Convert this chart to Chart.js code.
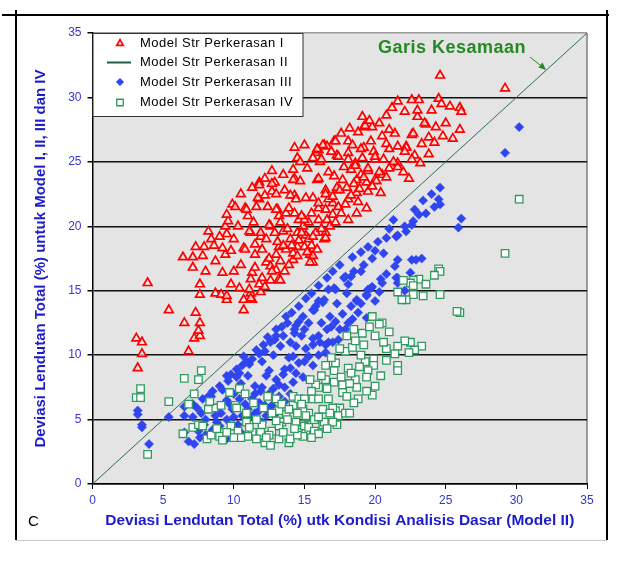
<!DOCTYPE html>
<html>
<head>
<meta charset="utf-8">
<script src="https://cdn.jsdelivr.net/npm/chart.js@4"></script>
<style>
 html,body{margin:0;padding:0;background:#fff;}
 canvas{display:block;}
</style>
</head>
<body>
<canvas id="chart" width="625" height="563"></canvas>
<script>
/* data: [x, y] pairs, deviasi lendutan (%) */
var model1=[
 [3.2,9.0],[3.1,11.3],[3.5,11.0],[3.5,10.1],[3.9,15.6],[5.4,13.5],[6.5,12.5],[6.8,10.3],[7.2,11.3],[7.6,11.5],[7.5,11.9],[7.3,13.3],[7.6,12.5],[7.6,14.7],[7.6,15.5],
 [9.5,14.3],[10.7,14.3],[11.3,14.3],[10.7,13.5],
 [6.4,17.6],[7.1,17.6],[7.1,16.8],[7.3,18.4],[7.8,17.7],[7.9,18.4],[8.2,19.6],[8.4,19.0],[8.7,17.3],[8.7,14.8],[9.1,14.7],[9.5,14.6],[9.2,16.4],[10.0,16.5],
 [9.4,17.8],[9.8,18.1],[10.7,18.3],[11.5,17.8],[11.2,19.5],[9.5,19.4],[9.0,19.2],[9.4,20.0],[9.6,20.4],[9.5,20.9],[9.9,21.7],[10.1,21.5],[10.8,21.4],[11.0,20.8],
 [10.5,22.5],[11.3,23.0],[11.8,23.4],[12.2,23.7],[12.7,24.3],[12.9,23.4],[12.7,22.7],[11.8,22.1],[11.6,21.5],[11.9,19.2],[12.3,19.0],[12.6,20.0],[13.1,21.3],
 [13.2,20.8],[13.3,20.3],[13.5,19.6],[13.2,18.4],[11.5,18.6],[11.3,16.4],[11.5,16.8],[12.3,17.2],[12.6,16.9],[13.0,16.6],[13.2,15.9],[11.9,14.9],[11.2,14.8],
 [10.4,15.2],[11.2,14.4],[11.1,15.1],[11.2,15.9],[12.7,16.5],[13.3,15.8],[13.3,17.3],[11.1,19.6],[11.9,19.5],[12.5,20.1],[13.1,18.8],[13.7,18.2],[14.2,17.4],
 [10.9,21.3],[13.0,21.3],[13.7,21.0],[10.8,18.2],[12.7,23.3],[11.8,23.2],[12.2,22.4],[11.7,22.2],[14.3,22.4],[14.3,23.7],
 [14.3,26.1],[15.0,26.3],[14.5,25.3],[14.2,24.4],[14.2,23.6],[14.7,23.5],[14.0,22.4],[14.4,22.1],[15.6,22.2],[13.9,21.4],[14.3,21.0],[14.6,20.5],[14.9,20.0],
 [15.1,19.3],[15.3,19.0],[14.5,18.4],[14.2,17.9],[14.5,17.7],[15.4,17.8],[15.6,17.2],[15.8,19.5],[16.5,19.5],[16.4,19.0],[15.8,25.7],[16.0,25.9],[16.4,26.3],
 [16.6,26.2],[17.1,26.6],[16.1,25.0],[15.9,23.6],[16.5,22.8],[17.1,23.9],[17.0,21.8],[16.5,21.3],[16.6,20.5],[16.0,20.5],
 [19.2,27.7],[19.8,27.7],[18.8,27.3],[21.4,27.2],[23.6,27.9],[24.3,27.7],[22.6,27.1],[20.8,26.4],[21.6,26.2],[22.2,26.2],[23.3,26.4],[22.8,25.5],[20.6,25.2],
 [21.6,24.9],[22.6,25.2],[16.3,26.3],[17.2,26.6],[18.1,26.6],[18.4,26.3],[19.2,26.1],[19.9,25.8],[20.0,25.2],[19.1,25.3],[17.3,25.5],[18.1,25.7],[15.6,25.3],
 [14.7,25.0],[18.6,24.9],[18.3,24.4],[19.5,24.3],[17.7,23.6],[18.7,23.6],[20.0,23.6],[19.4,23.4],[17.3,22.8],[19.5,22.7],[20.4,22.6],[15.1,22.2],[16.7,22.1],
 [18.1,22.1],[18.8,21.9],[16.0,21.4],[17.4,21.5],[18.7,21.0],[19.4,21.4],[17.0,20.9],[18.1,20.5],[15.3,20.3],[15.6,19.2],[15.0,18.4],[15.6,17.7],[15.4,17.2],[16.5,19.1],
 [24.6,31.7],[29.2,30.7],[21.6,29.7],[22.6,29.8],[23.1,29.8],[24.5,29.9],[24.7,29.5],[26.0,29.2],[26.1,28.9],[22.1,28.9],[20.8,28.6],[19.1,28.5],[19.3,27.8],
 [22.7,27.2],[22.2,26.1],[21.6,24.6],[22.1,25.8],[19.0,26.0],[20.0,25.4],[18.6,24.7],[16.0,23.7],[20.1,23.5],[17.3,23.0],[18.7,22.6],[15.9,26.0],[16.2,25.2],
 [17.4,25.4],[18.1,25.2],
 [12.0,16.0],[12.5,17.5],[13.0,17.8],[13.5,18.5],[14.0,19.0],[14.5,19.5],[15.0,20.5],[15.5,21.0],[16.0,21.8],[16.5,22.5],[17.0,22.3],[17.5,22.8],[18.0,23.0],
 [18.5,23.3],[19.0,24.0],[19.5,24.5],[20.5,24.0],[21.0,24.5],[13.8,19.8],[14.8,20.8],[23.0,28.5],[23.5,28.0],[24.0,29.0],[25.0,28.0],[21.0,27.5],[20.5,27.0],
 [11.8,15.5],[12.2,15.3],[12.6,15.8],[13.6,16.5],[13.9,17.0],[14.1,18.5],[14.6,18.9],[14.8,19.5],[15.2,18.0],[15.5,18.5],[15.9,18.2],[16.2,19.8],[16.8,20.0],
 [17.2,20.3],[17.6,21.0],[17.9,21.7],[18.3,22.4],[18.9,22.9],[19.2,23.8],[19.8,23.1],[20.3,24.2],[20.8,23.8],[21.3,25.0],[22.0,24.2],[22.4,23.7],[23.2,24.9],
 [23.8,25.6],[24.2,26.5],[24.8,27.0],[25.5,26.8],[26.0,27.5],[25.3,29.3],[23.0,29.0],[21.2,29.2],[20.3,28.0],[19.6,28.2],[18.2,27.6],[17.6,27.2],[16.9,25.8],
 [13.5,24.0],[13.0,22.5],[12.4,21.5],[11.4,20.3],[10.3,20.0],[10.0,19.0],[9.2,18.3],[8.6,18.5],[8.0,16.5],[9.8,15.5],[10.5,17.0],[12.0,18.2],[12.9,19.5],
 [13.6,22.8],[15.2,24.5],[16.7,24.2],[17.8,24.6],[19.7,26.6],[21.0,26.0],[23.8,26.9]
];
var model2X=[0,35];
var model2Y=[0,35];
var model3=[
 [3.2,5.7],[3.2,5.4],[3.5,4.6],[3.5,4.4],[4.0,3.1],[5.4,5.2],[6.5,5.3],[7.1,5.2],[6.5,4.0],[6.8,3.3],[7.2,3.1],[7.5,4.1],[7.6,3.6],[7.7,5.5],[7.1,6.2],[7.4,5.9],
 [7.8,6.6],[8.2,6.8],[8.4,6.8],[8.8,4.8],[9.1,5.5],[9.5,3.5],[9.5,5.0],[10.0,5.2],[10.5,4.0],[10.4,6.6],[9.0,7.6],[9.6,8.0],[9.5,8.4],[9.8,8.5],[10.2,8.9],
 [10.6,9.2],[10.9,9.5],[11.3,9.7],[11.8,10.1],[12.2,10.3],[12.6,11.0],[12.9,11.2],[13.3,10.7],[10.2,8.3],[11.0,8.4],[11.5,7.6],[12.3,8.4],[12.5,8.8],[13.0,8.1],
 [13.2,7.7],[13.6,7.5],[11.3,6.6],[11.8,6.3],[12.2,6.1],[12.7,6.1],[13.2,6.8],[10.6,5.3],[11.2,5.2],[11.5,5.5],[12.3,5.3],[13.9,9.8],[14.2,9.9],[14.4,10.7],
 [14.3,11.7],[14.6,12.6],[14.9,13.0],[14.4,12.3],[15.6,11.3],[16.0,11.5],[15.3,9.9],[15.6,9.2],[16.5,10.2],[17.0,11.0],[14.4,8.6],[14.9,8.3],[14.2,7.9],
 [15.3,8.1],[15.8,13.8],[16.3,14.1],
 [24.2,21.5],[23.6,21.0],[23.1,20.9],[22.7,20.4],[22.6,20.1],[22.1,20.0],[22.2,19.6],[21.5,19.2],[20.8,19.1],[20.6,17.9],[19.8,17.5],[19.2,17.0],[19.0,16.5],
 [18.3,16.1],[17.8,16.0],[18.1,15.5],[17.1,15.2],[16.7,15.1],[16.4,14.3],[15.6,13.5],[14.3,12.0],
 [21.6,17.4],[22.6,17.4],[22.9,17.4],[23.3,17.5],[21.4,16.9],[22.5,16.4],[20.8,16.3],[20.4,15.9],[21.6,16.0],[22.1,15.0],[19.8,15.3],[19.5,15.1],[19.4,14.6],
 [20.0,14.2],[18.7,14.3],[18.3,13.8],[18.8,13.3],[19.4,12.9],[17.7,13.2],[17.2,12.6],[18.1,12.5],[17.9,12.0],[16.6,12.0],[17.4,11.2],[15.6,10.8],[16.7,11.0],
 [30.2,27.7],[29.2,25.7],[24.6,23.0],[24.5,22.1],[24.6,21.7],[26.1,20.6],[25.9,19.9],[21.6,19.3],[18.5,16.5],[17.9,16.1],[17.2,15.1],[16.0,14.2],[15.7,13.5],
 [21.5,16.0],[21.6,15.6],[20.5,15.6],[19.7,15.2],[19.4,14.7],[18.7,14.2],
 [12.0,9.5],[12.8,10.0],[13.5,11.5],[13.0,12.0],[13.8,12.5],[14.0,11.0],[15.0,12.0],[15.3,12.5],[14.8,11.5],[16.2,12.5],[16.8,13.0],[17.3,14.0],[18.0,14.8],
 [12.0,7.5],[12.5,7.0],[13.5,8.5],[14.0,9.0],[15.0,9.5],[16.0,10.0],[16.5,10.8],[17.5,12.0],[9.5,6.5],[10.0,7.0],[8.5,7.2],[8.0,5.0],[9.0,4.5],[13.0,5.5],
 [12.0,4.8],[11.5,7.0],[10.5,7.8],[8.0,3.8],[8.5,4.2],[6.5,6.0],[9.7,6.2],
 [9.2,7.3],[10.4,8.6],[10.7,9.9],[11.1,9.3],[11.6,10.4],[12.1,10.8],[12.4,11.4],[13.0,11.5],[13.4,12.2],[13.7,13.0],[14.1,13.3],[14.6,13.8],[15.1,14.4],
 [15.5,14.8],[16.0,15.4],[16.6,16.0],[17.0,16.5],[17.5,17.0],[18.4,17.6],[19.0,18.0],[19.5,18.4],[20.2,18.8],[20.0,18.1],[21.0,19.8],[21.3,20.5],[22.8,21.3],
 [23.4,22.0],[24.0,22.5],[10.8,6.2],[11.9,7.2],[12.8,7.4],[13.6,8.9],[14.6,9.4],[15.1,10.5],[16.1,11.0],[16.9,12.2],[18.4,12.8],[19.0,14.0],[20.3,14.9],
 [12.4,5.8],[13.6,6.4],[14.0,7.0],[11.0,5.8],[9.9,5.8],[9.0,6.0],[8.7,5.3],[7.9,4.6],[10.3,4.6],[11.8,5.7]
];
var model4=[
 [3.1,6.7],[3.4,7.4],[3.4,6.7],[3.9,2.3],[5.4,6.4],[6.5,8.2],[7.7,8.8],[7.5,8.1],[7.2,7.0],[6.8,6.2],[6.4,3.9],[7.1,4.4],[7.5,4.6],[7.8,4.5],[8.1,3.5],[8.4,3.8],
 [9.0,3.7],[9.2,3.4],[8.6,5.9],[9.1,6.1],[10.1,6.1],[10.2,5.9],[9.7,7.1],[10.4,7.4],[10.8,7.0],[10.9,4.8],[9.8,4.5],[10.3,4.1],[11.3,4.0],[11.9,4.0],[11.6,3.5],
 [12.2,3.2],[12.6,3.0],[12.0,4.6],[12.7,4.1],[13.2,3.5],[13.9,3.2],[13.4,4.8],[13.7,5.4],[14.2,6.1],[14.4,4.8],[14.7,4.0],[15.1,4.1],[15.3,4.6],[13.2,5.7],
 [12.7,5.5],[13.0,6.6],[14.2,6.8],[14.6,6.6],[15.6,6.6],[15.3,5.5],[15.8,5.0],[16.3,4.6],[13.2,4.5],[11.6,5.0],[8.3,6.4],[8.2,5.8],
 [30.2,22.1],[29.2,17.9],[26.0,13.3],[25.8,13.4],[24.5,16.7],[24.6,16.5],[24.2,16.2],[23.1,15.9],[22.7,15.8],[22.5,15.6],[23.6,15.5],[22.7,15.4],[22.7,14.7],
 [21.6,14.9],[24.6,14.7],[22.2,14.3],[19.8,13.0],
 [20.5,12.5],[19.1,11.7],[23.3,10.7],[22.8,10.4],[22.5,11.0],[22.1,11.1],[22.4,10.2],[21.6,10.7],[21.4,10.1],[20.8,10.5],[20.8,9.6],[21.6,9.2],[21.6,8.8],
 [19.9,9.7],[19.9,9.2],[19.3,9.5],[19.5,8.8],[19.4,8.3],[20.4,8.4],[20.0,7.6],[19.8,6.9],[19.4,7.2],[18.6,8.1],[18.7,7.5],[18.8,6.6],[18.5,6.3],[18.1,9.0],
 [17.9,10.3],[18.4,10.6],[18.6,11.1],[17.7,7.7],[17.7,7.1],[17.5,5.9],[17.1,7.9],[17.1,8.8],[17.2,9.4],[16.5,9.2],[16.5,8.1],[16.6,7.4],[16.7,6.6],[17.2,5.7],
 [17.4,5.3],[17.3,4.6],[17.0,4.8],[16.4,4.8],[16.3,5.8],[16.0,6.6],[16.0,7.5],[15.8,7.7],[15.4,8.1],[15.0,6.6],[14.9,5.8],[15.1,5.3],[15.0,4.5],[15.3,4.4],
 [15.7,4.1],[14.9,3.7],[15.7,5.0],[17.9,5.5],[17.0,5.9],
 [12.5,3.8],[13.5,4.0],[14.0,3.5],[14.5,3.8],[11.0,3.7],[10.5,3.6],[13.8,5.0],[14.5,5.5],[16.0,5.2],[16.8,5.5],[18.0,6.8],[18.2,7.8],[19.0,10.0],[20.0,11.5],
 [20.3,12.4],[21.0,11.8],[18.5,12.0],[18.0,11.5],[17.5,10.5],
 [10.9,5.5],[11.4,6.3],[12.1,5.9],[12.4,6.8],[13.4,6.2],[13.9,5.8],[14.8,6.2],[15.5,7.2],[16.2,8.4],[16.9,9.8],[17.6,8.3],[18.3,8.6],[18.9,9.1],[18.2,5.5],
 [16.6,4.3],[16.0,3.9],[15.5,3.6],[14.3,4.3],[13.0,4.9],[12.3,3.6],[11.1,4.4],[10.0,3.6],[9.5,4.0],[8.8,4.3],[19.2,10.8],[20.6,11.0],[19.6,12.2],[21.9,14.3],
 [23.4,14.6],[22.0,15.8]
];
var xTicks=[0,5,10,15,20,25,30,35];
var yTicks=[0,5,10,15,20,25,30,35];
var seriesNames=['Model Str Perkerasan I','Model Str Perkerasan II','Model Str Perkerasan III','Model Str Perkerasan IV'];

function toPoints(pairs){return pairs.map(function(p){return {x:p[0],y:p[1]};});}

Chart.defaults.font.family='Arial, "Liberation Sans", sans-serif';

/* small marker drawing, used for the legend */
function drawMarker(ctx,style,x,y,r){
 ctx.beginPath();
 if(style=='triangle'){
  ctx.moveTo(x,y-r);ctx.lineTo(x+r*0.866,y+r*0.5);ctx.lineTo(x-r*0.866,y+r*0.5);ctx.closePath();
 }else if(style=='rectRot'){
  ctx.moveTo(x,y-r);ctx.lineTo(x+r,y);ctx.lineTo(x,y+r);ctx.lineTo(x-r,y);ctx.closePath();
 }else{
  var s=r*0.7071;ctx.rect(x-s,y-s,2*s,2*s);
 }
 ctx.fill();ctx.stroke();
}

/* plot background, frame, legend box and note */
var decor={
 id:'decor',
 beforeDraw:function(chart){
  var c=chart.ctx,a=chart.chartArea;
  c.save();
  c.fillStyle='#e4e4e4';
  c.fillRect(a.left,a.top,a.right-a.left,a.bottom-a.top);
  c.strokeStyle='#9a9a9a';c.lineWidth=2;
  c.beginPath();c.moveTo(a.right,a.bottom);c.lineTo(a.right,a.top);c.stroke();
  c.restore();
 },
 afterDraw:function(chart){
  var c=chart.ctx,a=chart.chartArea;
  c.save();
  // outer frame
  c.strokeStyle='#000';c.lineWidth=2;
  c.beginPath();
  c.moveTo(2,15);c.lineTo(609,15);
  c.moveTo(16,10);c.lineTo(16,540);
  c.moveTo(607,10);c.lineTo(607,540);
  c.stroke();
  c.strokeStyle='#c8c8c8';c.lineWidth=1;
  c.beginPath();c.moveTo(16,540.5);c.lineTo(607,540.5);c.stroke();
  // legend
  var lx=a.left+0.5,ly=a.top+0.5,lw=210,lh=83;
  c.fillStyle='#fff';c.fillRect(lx,ly,lw,lh);
  c.strokeStyle='#333';c.lineWidth=1;c.strokeRect(lx,ly,lw,lh);
  c.font='13px Arial, "Liberation Sans", sans-serif';
  c.textBaseline='middle';c.textAlign='left';
  if('letterSpacing' in c)c.letterSpacing='0.5px';
  var rows=[43.5,62.5,82,102.5];
  chart.data.datasets.forEach(function(ds,i){
   var yy=rows[i];
   if(ds.pointRadius===0){
    c.strokeStyle='#1e5c4c';c.lineWidth=2;
    c.beginPath();c.moveTo(107,yy);c.lineTo(131,yy);c.stroke();
   }else{
    c.fillStyle=ds.backgroundColor;c.strokeStyle=ds.borderColor;c.lineWidth=ds.borderWidth;
    drawMarker(c,ds.pointStyle,120,yy,ds.pointStyle=='rect'?4.6:3.8);
   }
   c.fillStyle='#000';
   c.fillText(ds.label,140,yy);
  });
  if('letterSpacing' in c)c.letterSpacing='0px';
  // C label
  c.font='15px Arial, "Liberation Sans", sans-serif';
  c.fillText('C',28,522);
  // note
  c.fillStyle='#238a23';
  c.font='bold 18px Arial, "Liberation Sans", sans-serif';
  if('letterSpacing' in c)c.letterSpacing='0.5px';
  c.fillText('Garis Kesamaan',378,48);
  if('letterSpacing' in c)c.letterSpacing='0px';
  c.strokeStyle='#238a23';c.lineWidth=1;
  c.beginPath();c.moveTo(530,57);c.lineTo(545,69);c.stroke();
  c.beginPath();c.moveTo(546,70);c.lineTo(538.5,67.5);c.lineTo(542.5,62.5);c.closePath();c.fill();
  c.restore();
 }
};

var ctx=document.getElementById('chart').getContext('2d');
var myChart=new Chart(ctx,{
 type:'scatter',
 data:{
  datasets:[
   {
    label:seriesNames[0],
    data:toPoints(model1),
    pointStyle:'triangle',
    pointRadius:5,
    borderColor:'#ff0000',
    backgroundColor:'rgba(255,236,236,0.75)',
    borderWidth:1.7,
    order:3
   },
   {
    label:seriesNames[1],
    data:model2X.map(function(v,i){return {x:v,y:model2Y[i]};}),
    showLine:true,
    pointRadius:0,
    borderColor:'#2e6b5c',
    borderWidth:1,
    order:2
   },
   {
    label:seriesNames[2],
    data:toPoints(model3),
    pointStyle:'rectRot',
    pointRadius:4.6,
    borderColor:'#2f45f0',
    backgroundColor:'#2f45f0',
    borderWidth:0.5,
    order:1
   },
   {
    label:seriesNames[3],
    data:toPoints(model4),
    pointStyle:'rect',
    pointRadius:5.3,
    borderColor:'#2f9a5e',
    backgroundColor:'#ffffff',
    borderWidth:1.3,
    order:0
   }
  ]
 },
 options:{
  responsive:false,
  animation:false,
  events:[],
  layout:{padding:{left:0,top:33,right:38,bottom:33}},
  plugins:{legend:{display:false},tooltip:{enabled:false}},
  scales:{
   x:{
    type:'linear',min:0,max:35,
    afterBuildTicks:function(s){s.ticks=xTicks.map(function(v){return {value:v};});},
    afterFit:function(s){s.height=46;},
    ticks:{color:'#3535d0',font:{size:12},padding:4},
    grid:{drawOnChartArea:false,drawTicks:true,tickLength:5,color:'#000',tickColor:'#000'},
    border:{color:'#000',width:1.5},
    title:{display:true,text:'Deviasi Lendutan Total (%) utk Kondisi Analisis Dasar (Model II)',color:'#1c1ccc',font:{size:15.5,weight:'bold'},padding:{top:0,bottom:0}}
   },
   y:{
    type:'linear',min:0,max:35,
    afterBuildTicks:function(s){s.ticks=yTicks.map(function(v){return {value:v};});},
    afterFit:function(s){s.width=92.5;},
    ticks:{color:'#3535d0',font:{size:12},padding:6},
    grid:{
     drawTicks:true,tickLength:5,lineWidth:1.5,tickColor:'#000',
     color:function(c){return c.tick&&c.tick.value==35?'#9a9a9a':'#111';}
    },
    border:{color:'#000',width:1.5},
    title:{display:true,text:'Deviasi Lendutan Total (%) untuk Model I, II, III dan IV',color:'#1c1ccc',font:{size:15,weight:'bold'},padding:{top:32,bottom:0}}
   }
  }
 },
 plugins:[decor]
});
</script>
</body>
</html>
